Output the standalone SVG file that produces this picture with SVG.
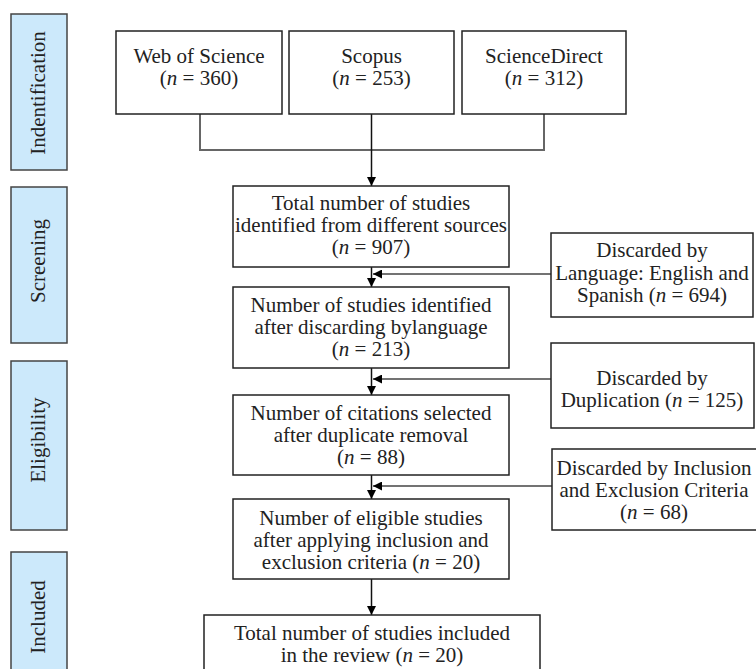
<svg xmlns="http://www.w3.org/2000/svg" width="756" height="669" viewBox="0 0 756 669" font-family="Liberation Serif, serif">
<defs>
<marker id="ah" viewBox="0 0 10 10" refX="10" refY="5" markerWidth="9" markerHeight="9" markerUnits="userSpaceOnUse" orient="auto">
<path d="M0,0 L10,5 L0,10 z" fill="#000"/>
</marker>
</defs>
<style>
.ph{fill:#cce9fb;stroke:#444;stroke-width:1.5}
.bx{fill:#fff;stroke:#222;stroke-width:1.5}
text{font-size:21px;fill:#222;text-anchor:middle}
.c{fill:none;stroke:#111;stroke-width:1.5}
.g{fill:none;stroke:#666;stroke-width:2}
.s{fill:none;stroke:#444;stroke-width:1.5}
</style>
<rect width="756" height="669" fill="#fff"/>
<g id="phase-identification"><rect class="ph" x="11" y="14" width="56" height="156"/><text transform="translate(45,93) rotate(-90)">Indentification</text></g>
<g id="phase-screening"><rect class="ph" x="11" y="187" width="56" height="156"/><text transform="translate(45,261) rotate(-90)">Screening</text></g>
<g id="phase-eligibility"><rect class="ph" x="11" y="361" width="56" height="169"/><text transform="translate(45,440) rotate(-90)">Eligibility</text></g>
<g id="phase-included"><rect class="ph" x="11" y="552" width="56" height="130"/><text transform="translate(45,617) rotate(-90)">Included</text></g>

<g id="connectors">
<path class="g" d="M200,114 V150 H544 V114"/>
<line class="c" x1="371.5" y1="114" x2="371.5" y2="186" marker-end="url(#ah)"/>
<line class="c" x1="371.5" y1="267" x2="371.5" y2="287" marker-end="url(#ah)"/>
<line class="s" x1="551" y1="274" x2="373" y2="274" marker-end="url(#ah)"/>
<line class="c" x1="371.5" y1="368" x2="371.5" y2="395" marker-end="url(#ah)"/>
<line class="s" x1="551" y1="379" x2="373" y2="379" marker-end="url(#ah)"/>
<line class="c" x1="371.5" y1="475" x2="371.5" y2="499" marker-end="url(#ah)"/>
<line class="s" x1="552" y1="486" x2="373" y2="486" marker-end="url(#ah)"/>
<line class="c" x1="371.5" y1="579" x2="371.5" y2="615" marker-end="url(#ah)"/>
</g>

<g id="wos"><rect class="bx" x="116" y="31" width="166" height="83"/><text x="199" y="63">Web of Science</text><text x="199" y="85">(<tspan font-style="italic">n</tspan> = 360)</text></g>
<g id="scopus"><rect class="bx" x="289" y="31" width="165" height="83"/><text x="371.5" y="63">Scopus</text><text x="371.5" y="85">(<tspan font-style="italic">n</tspan> = 253)</text></g>
<g id="sciencedirect"><rect class="bx" x="462" y="31" width="164" height="83"/><text x="544" y="63">ScienceDirect</text><text x="544" y="85">(<tspan font-style="italic">n</tspan> = 312)</text></g>

<g id="total"><rect class="bx" x="233" y="186" width="276" height="81"/><text x="371" y="210">Total number of studies</text><text x="371" y="232">identified from different sources</text><text x="371" y="254">(<tspan font-style="italic">n</tspan> = 907)</text></g>
<g id="after-language"><rect class="bx" x="233" y="287" width="276" height="81"/><text x="371" y="312">Number of studies identified</text><text x="371" y="334">after discarding bylanguage</text><text x="371" y="356">(<tspan font-style="italic">n</tspan> = 213)</text></g>
<g id="citations"><rect class="bx" x="233" y="395" width="276" height="80"/><text x="371" y="420">Number of citations selected</text><text x="371" y="442">after duplicate removal</text><text x="371" y="464">(<tspan font-style="italic">n</tspan> = 88)</text></g>
<g id="eligible"><rect class="bx" x="233" y="499" width="276" height="80"/><text x="371" y="525">Number of eligible studies</text><text x="371" y="547">after applying inclusion and</text><text x="371" y="569">exclusion criteria (<tspan font-style="italic">n</tspan> = 20)</text></g>
<g id="final"><rect class="bx" x="204" y="615" width="336" height="70"/><text x="372" y="640">Total number of studies included</text><text x="372" y="662">in the review (<tspan font-style="italic">n</tspan> = 20)</text></g>

<g id="disc-language"><rect class="bx" x="551" y="233" width="202" height="84"/><text x="652" y="257">Discarded by</text><text x="652" y="280">Language: English and</text><text x="652" y="302">Spanish (<tspan font-style="italic">n</tspan> = 694)</text></g>
<g id="disc-duplication"><rect class="bx" x="551" y="343" width="203" height="85"/><text x="652" y="385">Discarded by</text><text x="652" y="407">Duplication (<tspan font-style="italic">n</tspan> = 125)</text></g>
<g id="disc-criteria"><rect class="bx" x="552" y="449" width="210" height="81"/><text x="654" y="475">Discarded by Inclusion</text><text x="654" y="497">and Exclusion Criteria</text><text x="654" y="519">(<tspan font-style="italic">n</tspan> = 68)</text></g>
</svg>
